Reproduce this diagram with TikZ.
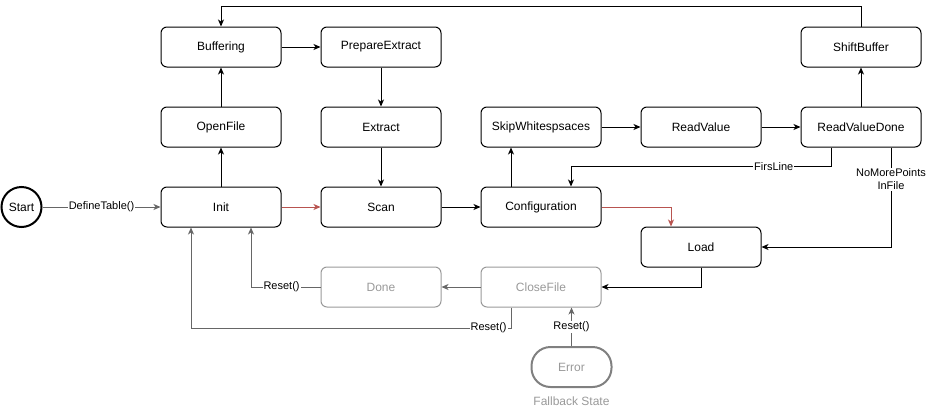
\documentclass[tikz,border=0pt]{standalone}
\usepackage{fontspec}
\setmainfont{Liberation Sans}
\usetikzlibrary{arrows.meta}
\definecolor{redline}{HTML}{B85450}
\definecolor{grayline}{HTML}{666666}
\definecolor{faded}{HTML}{999999}
\definecolor{errborder}{HTML}{808080}
\begin{document}
\begin{tikzpicture}[x=1pt,y=-1pt,
  state/.style={draw, rounded corners=6pt, minimum width=120pt, minimum height=40pt, line width=1pt, font=\fontsize{12}{14}\selectfont, inner sep=0pt},
  fadedstate/.style={state, draw=faded, text=faded},
  conn/.style={line width=1pt, -{Stealth[length=7pt,width=6pt,inset=2pt]}},
  lbl/.style={fill=white, inner sep=1pt, font=\fontsize{11}{13}\selectfont, text=black}
]
\useasboundingbox (0,0) rectangle (927,418);

\node[draw, circle, line width=2pt, minimum size=40pt, inner sep=0pt, font=\fontsize{12}{14}\selectfont] (start) at (21.5,207) {Start};

\node[state] (buffering) at (221,47) {Buffering};
\node[state] (prepare) at (381,47) {PrepareExtract};
\node[state] (shift) at (861,47) {ShiftBuffer};
\node[state] (openfile) at (221,127) {OpenFile};
\node[state] (extract) at (381,127) {Extract};
\node[state] (skip) at (541,127) {SkipWhitespsaces};
\node[state] (readvalue) at (701,127) {ReadValue};
\node[state] (rvd) at (861,127) {ReadValueDone};
\node[state] (init) at (221,207) {Init};
\node[state] (scan) at (381,207) {Scan};
\node[state] (config) at (541,207) {Configuration};
\node[state] (load) at (701,247) {Load};
\node[fadedstate] (done) at (381,287) {Done};
\node[fadedstate] (closefile) at (541,287) {CloseFile};
\node[draw=errborder, line width=2pt, rounded corners=19pt, minimum width=80pt, minimum height=40pt, inner sep=0pt, text=faded, font=\fontsize{12}{14}\selectfont] (error) at (571.5,367) {Error};
\node[text=faded, font=\fontsize{12}{14}\selectfont, inner sep=0pt] (fallback) at (571.5,401) {Fallback State};

\draw[conn, grayline] (start) -- node[lbl]{DefineTable()} (init);
\draw[conn] (init) -- (openfile);
\draw[conn] (openfile) -- (buffering);
\draw[conn] (buffering) -- (prepare);
\draw[conn] (prepare) -- (extract);
\draw[conn] (extract) -- (scan);
\draw[conn, redline] (init) -- (scan);
\draw[conn] (scan) -- (config);
\draw[conn] ([xshift=-30pt]config.north) -- ([xshift=-30pt]skip.south);
\draw[conn] (skip) -- (readvalue);
\draw[conn] (readvalue) -- (rvd);
\draw[conn] (rvd) -- (shift);
\draw[conn] ([xshift=-30pt]rvd.south) |- node[lbl, pos=0.61]{FirsLine} ([xshift=30pt,yshift=20pt]config.north) -- ([xshift=30pt]config.north);
\draw[conn] ([xshift=30pt]rvd.south) |- node[lbl, pos=0.16, align=center, font=\fontsize{11}{13}\selectfont]{NoMorePoints\\InFile} (load.east);
\draw[conn, redline] (config.east) -| ([xshift=-30pt]load.north);
\draw[conn] (load.south) |- (closefile.east);
\draw[conn, grayline] (closefile) -- (done);
\draw[conn, grayline] (done.west) -| node[lbl, pos=0.28]{Reset()} ([xshift=30pt]init.south);
\draw[conn, grayline] ([xshift=-30pt]closefile.south) -- ++(0,20.5) -| node[lbl, pos=0.035]{Reset()} ([xshift=-30pt]init.south);
\draw[conn, grayline] (error) -- node[lbl]{Reset()} ([xshift=30.5pt]closefile.south);
\draw[conn] (shift.north) -- ++(0,-20) -| (buffering.north);
\end{tikzpicture}
\end{document}
